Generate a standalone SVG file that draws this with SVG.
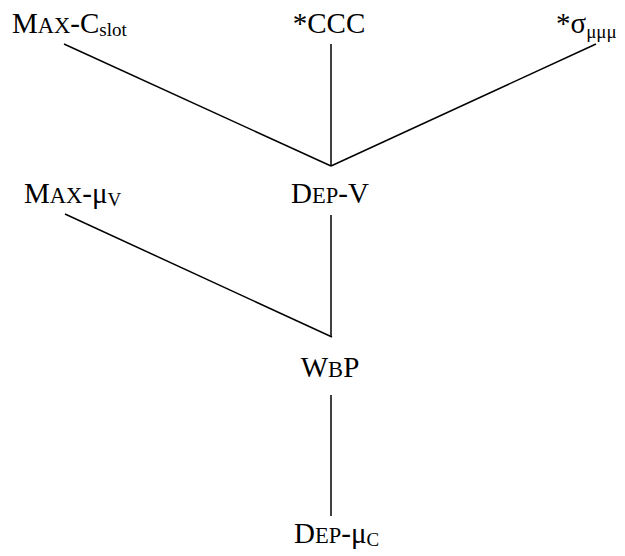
<svg xmlns="http://www.w3.org/2000/svg" width="625" height="556" viewBox="0 0 625 556">
<style>
text{font-family:"Liberation Serif","Times New Roman",serif;font-size:29px;fill:#000}
.sc{font-size:22.5px}
.sub{font-size:19px}
line{stroke:#000;stroke-width:1.5;stroke-linecap:butt}
</style>
<rect width="625" height="556" fill="#fff"/>
<g id="connectors">
<line x1="64" y1="44" x2="331" y2="166"/>
<line x1="331" y1="44" x2="331" y2="166"/>
<line x1="596" y1="44" x2="331" y2="166"/>
<line x1="65" y1="214" x2="332" y2="337"/>
<line x1="331" y1="215" x2="331" y2="337"/>
<line x1="331" y1="395" x2="331" y2="516"/>
</g>
<g id="max-cslot"><text x="12" y="33">M<tspan class="sc">AX</tspan>-C<tspan class="sub" dy="3">slot</tspan></text></g>
<g id="ccc"><text x="329" y="33" text-anchor="middle">*CCC</text></g>
<g id="sigma"><text x="556" y="33">*σ<tspan class="sub" dy="5">μμμ</tspan></text></g>
<g id="max-muv"><text x="24" y="203">M<tspan class="sc">AX</tspan>-μ<tspan class="sub" dy="3">V</tspan></text></g>
<g id="dep-v"><text x="330" y="203" text-anchor="middle">D<tspan class="sc">EP</tspan>-V</text></g>
<g id="wbp"><text x="330" y="377" text-anchor="middle">W<tspan class="sc">B</tspan>P</text></g>
<g id="dep-muc"><text x="294" y="543">D<tspan class="sc">EP</tspan>-μ<tspan class="sub" dy="3">C</tspan></text></g>
</svg>
